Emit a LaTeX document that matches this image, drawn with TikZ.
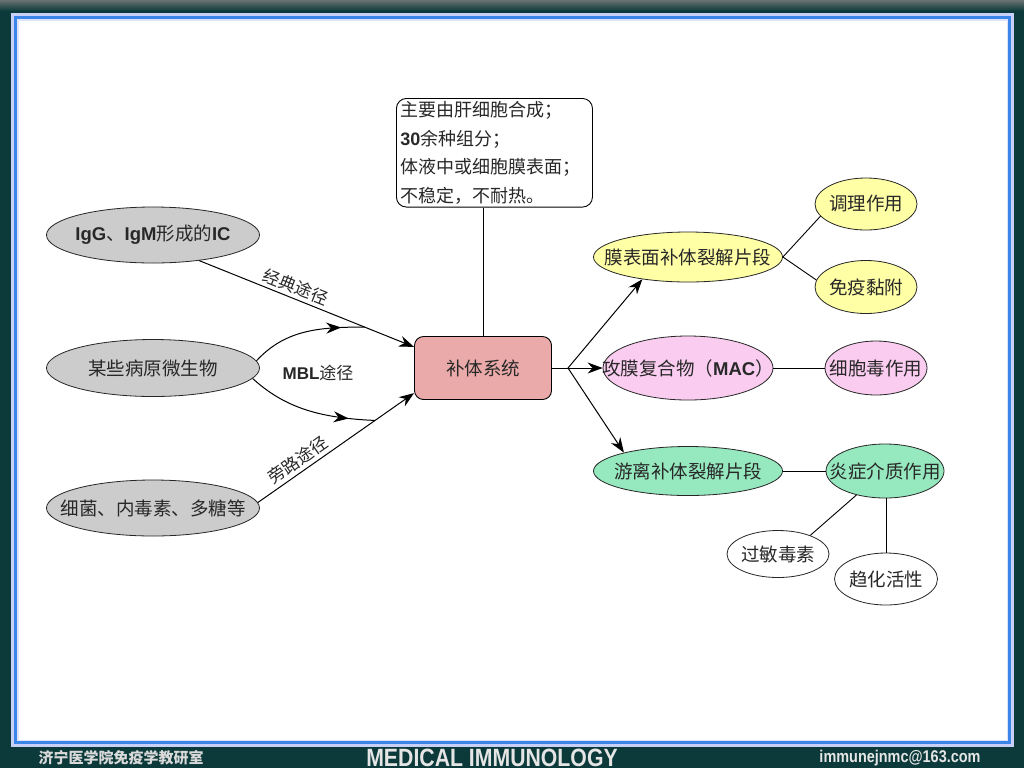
\documentclass[tikz,border=0pt]{standalone}
\usepackage{fontspec}
\setmainfont{Noto Sans CJK SC}
\newfontfamily\arial{Liberation Sans}
\newfontfamily\narrowsans[FakeStretch=0.85]{Liberation Sans}
\usepackage{tikz}
\usetikzlibrary{arrows.meta,shapes.geometric,decorations.markings}

\definecolor{frameteal}{RGB}{12,58,58}
\definecolor{framelav}{RGB}{200,208,248}
\definecolor{frameblue}{RGB}{58,134,232}
\definecolor{sysred}{RGB}{235,170,170}
\definecolor{ovgray}{RGB}{204,204,204}
\definecolor{ovyellow}{RGB}{255,255,165}
\definecolor{ovpink}{RGB}{250,205,240}
\definecolor{ovgreen}{RGB}{150,232,190}
\definecolor{inkgray}{RGB}{40,40,40}

% text that may run over the rim of its oval, as in the slide
\newcommand{\ovtext}[1]{\makebox[0pt]{#1}}

\begin{document}
\begin{tikzpicture}[x=1pt,y=-1pt,font=\fontsize{18.5}{22}\selectfont,
    oval/.style={ellipse,draw=black!85,line width=0.8pt,inner sep=0pt,text=inkgray},
    arr/.style={-{Stealth[length=15pt,width=11pt]},line width=1pt},
    mblarc/.style={line width=1pt,postaction={decorate},
      decoration={markings,mark=at position 0.8 with {\arrow{Stealth[length=15pt,width=11pt]}}}},
    pathlabel/.style={font=\fontsize{17}{20}\selectfont,text=inkgray}]
  % slide frame
  \fill[frameteal] (0,0) rectangle (1024,768);
  \shade[top color=gray!80!frameteal,bottom color=frameteal] (0,0) rectangle (1024,11);
  \fill[framelav] (11,13) rectangle (1014,747);
  \fill[frameblue] (14,16) rectangle (1011,744);
  \fill[framelav!60!white] (17,19) rectangle (1008,741);
  \fill[white] (19,21) rectangle (1007,740);

  \node[draw,line width=0.9pt,rounded corners=9pt,fill=sysred,text=inkgray,
    minimum width=137pt,minimum height=63pt,inner sep=0pt] (sys) at (483,368) {补体系统};
  \node[draw,line width=0.9pt,rounded corners=10pt,anchor=north west,align=left,
    text width=188pt,inner xsep=4pt,inner ysep=3pt,text=inkgray,
    font=\fontsize{18}{28.5}\selectfont] (info) at (396,98)
    {主要由肝细胞合成；\\{\arial\bfseries 30}余种组分；\\体液中或细胞膜表面；\\不稳定，不耐热。};
  \draw[line width=0.9pt] (info.south -| sys.north) -- (sys.north);

  \node[oval,fill=ovgray,minimum width=213pt,minimum height=56pt] (ic) at (153,235)
    {\ovtext{{\arial\bfseries IgG}、{\arial\bfseries IgM}形成的{\arial\bfseries IC}}};
  \node[oval,fill=ovgray,minimum width=213pt,minimum height=57pt] (microbe) at (153,368)
    {\ovtext{某些病原微生物}};
  \node[oval,fill=ovgray,minimum width=213pt,minimum height=56pt] (bact) at (153,508)
    {\ovtext{细菌、内毒素、多糖等}};

  \draw[arr] (ic.-29) -- node[pathlabel,sloped,above,pos=0.43] (lclassic) {经典途径}
    coordinate[pos=0.77] (mblup) (sys.163);
  \draw[arr] (bact.3) -- node[pathlabel,sloped,above,pos=0.3] (lalt) {旁路途径}
    coordinate[pos=0.75] (mbldn) (sys.200);
  \draw[mblarc] (microbe.4) .. controls (285,330) and (318,327) .. (mblup);
  \draw[mblarc] (microbe.-6) .. controls (285,408) and (320,418) .. (mbldn);
  \node[pathlabel] (lmbl) at (318,373) {{\arial\bfseries MBL}途径};

  \node[oval,fill=ovyellow,minimum width=189pt,minimum height=50pt] (mem) at (688,257)
    {\ovtext{膜表面补体裂解片段}};
  \node[oval,fill=ovyellow,minimum width=102pt,minimum height=52pt] (opso) at (866,204)
    {\ovtext{调理作用}};
  \node[oval,fill=ovyellow,minimum width=102pt,minimum height=53pt] (adh) at (866,287)
    {\ovtext{免疫黏附}};
  \node[oval,fill=ovpink,minimum width=170pt,minimum height=64pt] (mac) at (688,368)
    {\ovtext{攻膜复合物（{\arial\bfseries MAC}）}};
  \node[oval,fill=ovpink,minimum width=102pt,minimum height=54pt] (cyto) at (876,368)
    {\ovtext{细胞毒作用}};
  \node[oval,fill=ovgreen,minimum width=189pt,minimum height=49pt] (free) at (688,471)
    {\ovtext{游离补体裂解片段}};
  \node[oval,fill=ovgreen,minimum width=118pt,minimum height=54pt] (infl) at (885,471)
    {\ovtext{炎症介质作用}};
  \node[oval,fill=white,minimum width=102pt,minimum height=47pt] (ana) at (778,554)
    {\ovtext{过敏毒素}};
  \node[oval,fill=white,minimum width=103pt,minimum height=52pt] (chem) at (886,579)
    {\ovtext{趋化活性}};

  \coordinate (fork) at (568,368);
  \draw[line width=1pt] (sys.east) -- (fork);
  \draw[arr] (fork) -- (mem.206);
  \draw[arr] (fork) -- (mac.west);
  \draw[arr] (fork) -- (free.164);
  \draw[line width=0.9pt] (mem.east) -- (opso.195);
  \draw[line width=0.9pt] (mem.east) -- (adh.172);
  \draw[line width=0.9pt] (mac.east) -- (cyto.west);
  \draw[line width=0.9pt] (free.east) -- (infl.west);
  \draw[line width=0.9pt] (infl.220) -- (ana.30);
  \draw[line width=0.9pt] (chem.north |- infl.south) -- (chem.north);

  % footer
  \node[text=white!85!black,font=\fontsize{15}{16}\selectfont\bfseries] (dept) at (121,758)
    {济宁医学院免疫学教研室};
  \node[text=white!90!black,font=\narrowsans\bfseries\fontsize{25}{26}\selectfont] (course)
    at (492,758) {MEDICAL IMMUNOLOGY};
  \node[text=white!90!black,font=\narrowsans\bfseries\fontsize{17}{18}\selectfont] (mail)
    at (900,758) {immunejnmc@163.com};
\end{tikzpicture}
\end{document}
